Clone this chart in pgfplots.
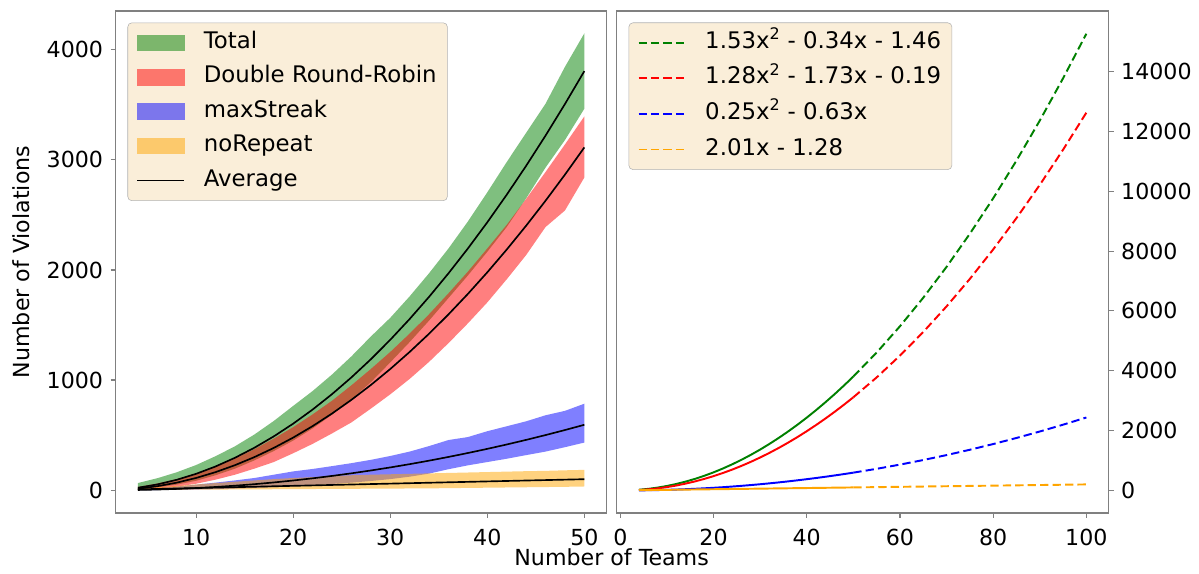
\documentclass[border=0pt]{standalone}
\usepackage{fontspec}
\setmainfont{DejaVu Sans}
\usepackage{pgfplots}
\usepackage{pgfplotstable}
\pgfplotsset{compat=1.18}
\usepgfplotslibrary{fillbetween}

\definecolor{mgreen}{RGB}{0,128,0}
\definecolor{mred}{RGB}{255,0,0}
\definecolor{mblue}{RGB}{0,0,255}
\definecolor{morange}{RGB}{255,165,0}
\definecolor{legbg}{RGB}{250,238,217}
\definecolor{framegray}{RGB}{128,128,128}

% averages and min/max bands per number of teams
\pgfplotstableread{
x mean lo hi
4 21.7 8 64
6 51.6 25 108
8 93.7 50 162
10 148.1 85 228
12 214.8 135 308
14 293.7 195 398
16 384.8 270 505
18 488.1 355 628
20 603.7 450 765
22 731.6 560 900
24 871.7 685 1050
26 1024.0 825 1215
28 1188.5 980 1395
30 1365.3 1160 1565
32 1554.4 1345 1760
34 1755.7 1540 1970
36 1969.2 1745 2195
38 2194.9 1950 2440
40 2432.9 2165 2705
42 2683.2 2390 2980
44 2945.7 2650 3245
46 3220.4 2930 3510
48 3507.3 3180 3845
50 3806.5 3465 4150
}\total

\pgfplotstableread{
x mean lo hi
4 13.4 3 28
6 35.5 14 60
8 67.9 32 100
10 110.5 58 152
12 163.4 95 215
14 226.5 140 288
16 299.8 195 372
18 383.4 255 468
20 477.2 335 572
22 581.3 420 688
24 695.6 515 812
26 820.1 615 952
28 954.9 740 1100
30 1099.9 870 1255
32 1255.2 1010 1422
34 1420.7 1165 1598
36 1596.4 1335 1788
38 1782.4 1515 1985
40 1978.6 1705 2195
42 2185.1 1915 2410
44 2401.8 2135 2645
46 2628.7 2390 2890
48 2865.9 2540 3140
50 3113.3 2840 3395
}\drr

\pgfplotstableread{
x mean lo hi
4 1.5 0 8
6 5.2 1 18
8 11.0 3 32
10 18.7 5 50
12 28.4 9 68
14 40.2 14 88
16 53.9 20 110
18 69.7 27 140
20 87.4 35 170
22 107.1 45 192
24 128.9 56 218
26 152.6 68 245
28 178.4 83 275
30 206.1 100 310
32 235.8 122 350
34 267.6 150 400
36 301.3 190 455
38 337.1 225 482
40 374.8 255 535
42 414.5 285 580
44 456.3 318 625
46 500.0 350 680
48 545.8 390 720
50 593.5 432 785
}\streak

\pgfplotstableread{
x mean lo hi
4 6.8 1 14
6 10.8 2 26
8 14.8 3 38
10 18.8 4 52
12 22.8 5 64
14 26.9 6 76
16 30.9 7 88
18 34.9 8 100
20 38.9 9 110
22 42.9 10 118
24 47.0 11 127
26 51.0 12 135
28 55.0 13 140
30 59.0 14 144
32 63.0 15 148
34 67.1 16 152
36 71.1 18 156
38 75.1 20 160
40 79.1 22 164
42 83.1 24 168
44 87.2 26 172
46 91.2 28 175
48 95.2 30 180
50 99.2 33 184
}\norep

% fitted curves, extrapolated to 100 teams
\pgfplotstableread{
x y
50 3806.5
55 4608.1
60 5486.1
65 6440.7
70 7471.7
75 8579.3
80 9763.3
85 11023.9
90 12360.9
95 13774.5
100 15264.5
}\totalfit

\pgfplotstableread{
x y
50 3113.3
55 3776.7
60 4504.0
65 5295.4
70 6150.7
75 7070.1
80 8053.4
85 9100.8
90 10212.1
95 11387.5
100 12626.8
}\drrfit

\pgfplotstableread{
x y
50 593.5
55 721.6
60 862.2
65 1015.3
70 1180.9
75 1359.0
80 1549.6
85 1752.7
90 1968.3
95 2196.4
100 2437.0
}\streakfit

\pgfplotstableread{
x y
50 99.2
75 149.5
100 199.7
}\norepfit

\pgfplotsset{
  panel/.style={
    scale only axis,
    height=362.88pt,
    anchor=south west,
    axis line style={framegray, line width=0.8pt},
    tick style={framegray, line width=0.8pt},
    major tick length=3.5pt,
    tick align=outside,
    xtick pos=bottom,
    xticklabel style={yshift=-2.5pt},
    /pgf/number format/assume math mode=true,
    /pgf/number format/1000 sep={},
    scaled ticks=false,
    legend cell align=left,
    legend style={
      at={(0.0243,0.977)}, anchor=north west,
      fill=legbg, draw=black!30, rounded corners=3pt,
      font=\fontsize{16.5}{19.8}\selectfont,
      inner xsep=6.3pt, inner ysep=6.5pt,
      column sep=12pt,
      nodes={inner xsep=1.5pt, inner ysep=0pt, text height=12pt, text depth=4pt},
    },
  },
  bandlegend/.style={legend image code/.code={\fill[##1, sharp corners] (0pt,-6pt) rectangle (34.5pt,6pt);}},
  linelegend/.style={legend image code/.code={\draw[##1, sharp corners] (0pt,0pt) -- (34pt,0pt);}},
}

\begin{document}
\fontsize{16}{19}\selectfont
\begin{tikzpicture}
\begin{axis}[
    panel,
    at={(83.52pt,39.6pt)},
    width=354.96pt,
    xmin=1.7, xmax=52.3,
    ymin=-208, ymax=4353,
    xtick={10,20,30,40,50},
    ytick={0,1000,2000,3000,4000},
    ytick pos=left,
    xlabel={Number of Teams},
    ylabel={Number of Violations},
    xlabel style={at={(axis description cs:1.0101,-0.088)}, anchor=center},
    ylabel style={at={(axis description cs:-0.193,0.5)}, anchor=center},
    legend style={row sep=8.9pt},
]
\addplot[draw=none, name path=th, forget plot] table[x=x, y=hi] {\total};
\addplot[draw=none, name path=tl, forget plot] table[x=x, y=lo] {\total};
\addplot[draw=none, name path=dh, forget plot] table[x=x, y=hi] {\drr};
\addplot[draw=none, name path=dl, forget plot] table[x=x, y=lo] {\drr};
\addplot[draw=none, name path=sh, forget plot] table[x=x, y=hi] {\streak};
\addplot[draw=none, name path=sl, forget plot] table[x=x, y=lo] {\streak};
\addplot[draw=none, name path=nh, forget plot] table[x=x, y=hi] {\norep};
\addplot[draw=none, name path=nl, forget plot] table[x=x, y=lo] {\norep};

\addplot[fill=mgreen, fill opacity=0.5, draw=none, bandlegend] fill between[of=th and tl];
\addlegendentry{Total}
\addplot[fill=mred, fill opacity=0.5, draw=none, bandlegend] fill between[of=dh and dl];
\addlegendentry{Double Round-Robin}
\addplot[fill=mblue, fill opacity=0.5, draw=none, bandlegend] fill between[of=sh and sl];
\addlegendentry{maxStreak}
\addplot[fill=morange, fill opacity=0.5, draw=none, bandlegend] fill between[of=nh and nl];
\addlegendentry{noRepeat}

\addplot[black, line width=1.2pt, linelegend] table[x=x, y=mean] {\total};
\addlegendentry{Average}
\addplot[black, line width=1.2pt, forget plot] table[x=x, y=mean] {\drr};
\addplot[black, line width=1.2pt, forget plot] table[x=x, y=mean] {\streak};
\addplot[black, line width=1.2pt, forget plot] table[x=x, y=mean] {\norep};
\end{axis}

\begin{axis}[
    panel,
    at={(445.68pt,39.6pt)},
    width=355.68pt,
    xmin=-0.8, xmax=104.8,
    ymin=-756, ymax=16027,
    xtick={0,20,40,60,80,100},
    ytick={0,2000,4000,6000,8000,10000,12000,14000},
    ytick pos=right,
    yticklabel pos=right,
    legend style={row sep=9.7pt},
]
\addplot[mgreen, line width=1.4pt, forget plot] table[x=x, y=mean] {\total};
\addplot[mred, line width=1.4pt, forget plot] table[x=x, y=mean] {\drr};
\addplot[mblue, line width=1.4pt, forget plot] table[x=x, y=mean] {\streak};
\addplot[morange, line width=1.4pt, forget plot] table[x=x, y=mean] {\norep};

\addplot[mgreen, line width=1.4pt, dash pattern=on 6pt off 3pt, linelegend] table {\totalfit};
\addlegendentry{1.53x\textsuperscript{2} - 0.34x - 1.46}
\addplot[mred, line width=1.4pt, dash pattern=on 6pt off 3pt, linelegend] table {\drrfit};
\addlegendentry{1.28x\textsuperscript{2} - 1.73x - 0.19}
\addplot[mblue, line width=1.4pt, dash pattern=on 6pt off 3pt, linelegend] table {\streakfit};
\addlegendentry{0.25x\textsuperscript{2} - 0.63x}
\addplot[morange, line width=1.4pt, dash pattern=on 6pt off 3pt, linelegend] table {\norepfit};
\addlegendentry{2.01x - 1.28}
\end{axis}
\path (0,0) rectangle (863.28pt,410.4pt);
\end{tikzpicture}
\end{document}
